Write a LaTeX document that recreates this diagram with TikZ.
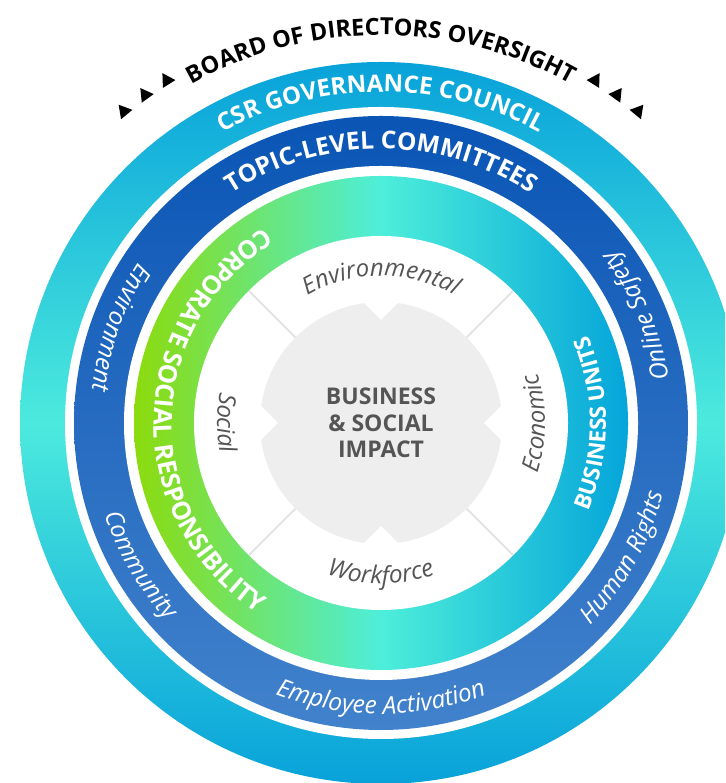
\documentclass[tikz,border=0pt]{standalone}
\usepackage{fontspec}
\setmainfont{Open Sans}
\usetikzlibrary{decorations.text,shapes.geometric}
\definecolor{cyanA}{HTML}{08A2DA}
\definecolor{cyanM}{HTML}{4CEADD}
\definecolor{blueT}{HTML}{0A55B5}
\definecolor{blueB}{HTML}{4282CC}
\definecolor{limeL}{HTML}{8CDB0C}
\definecolor{aquaM}{HTML}{4DEEDA}
\definecolor{cyanR}{HTML}{05A5DA}
\definecolor{grayC}{HTML}{EEEEEE}
\definecolor{grayL}{HTML}{E4E4E4}
\definecolor{txtgray}{HTML}{555555}
\begin{document}
\begin{tikzpicture}[x=1pt,y=1pt,
  tri/.style={regular polygon, regular polygon sides=3, fill=black, draw=none, minimum size=17pt, inner sep=0pt},
  arctext/.style={decorate, decoration={text along path, text align=center}},
  divider/.style={draw=grayL, line width=2pt}]
\clip (0,0) rectangle (725,783);
\coordinate (c) at (381,360);
% rings
\shade[top color=cyanA, bottom color=cyanA, middle color=cyanM] (c) circle (361pt);
\fill[white] (c) circle (316pt);
\shade[top color=blueT, bottom color=blueB] (c) circle (307pt);
\fill[white] (c) circle (257pt);
\shade[left color=limeL, right color=cyanR, middle color=aquaM] (c) circle (247pt);
\fill[white] (c) circle (187pt);
% dividers
\foreach \a in {45,135,225,315}
  \draw[divider] ([shift={(\a:100pt)}]c) -- ([shift={(\a:187pt)}]c);
% center shape
\fill[grayC] (c) circle (121pt);
\foreach \a in {0,90,180,270}
  \fill[white] ([shift={(\a:103pt)}]c) -- ([shift={(\a:133pt)},shift={(\a+90:30pt)}]c)
     -- ([shift={(\a:163pt)}]c) -- ([shift={(\a:133pt)},shift={(\a-90:30pt)}]c) -- cycle;
\node[font=\fontsize{23}{26.5}\selectfont\bfseries, text=txtgray, align=center] (impact) at (c) {BUSINESS\\\& SOCIAL\\IMPACT};
% triangles
\node[tri, rotate=32] (t1) at ([shift={(122:404pt)}]c) {};
\node[tri, rotate=35.7] (t2) at ([shift={(125.7:404pt)}]c) {};
\node[tri, rotate=39.5] (t3) at ([shift={(129.5:404pt)}]c) {};
\node[tri, rotate=-32] (t4) at ([shift={(58:404pt)}]c) {};
\node[tri, rotate=-35.7] (t5) at ([shift={(54.3:404pt)}]c) {};
\node[tri, rotate=-39.5] (t6) at ([shift={(50.5:404pt)}]c) {};
% top caps texts (clockwise)
\path[arctext, decoration={text color=black, text={|\fontsize{23.5}{23.5}\selectfont\bfseries|BOARD OF DIRECTORS OVERSIGHT}}]
  ([shift={(178:388pt)}]c) arc[start angle=178, end angle=2, radius=388pt];
\path[arctext, decoration={text color=white, text={|\fontsize{24}{24}\selectfont\bfseries|CSR GOVERNANCE COUNCIL}}]
  ([shift={(178:331pt)}]c) arc[start angle=178, end angle=2, radius=331pt];
\path[arctext, decoration={text color=white, text={|\fontsize{24.5}{24.5}\selectfont\bfseries|TOPIC-LEVEL COMMITTEES}}]
  ([shift={(178:274pt)}]c) arc[start angle=178, end angle=2, radius=274pt];
% green ring caps texts (counterclockwise)
\path[arctext, decoration={text color=white, text={|\fontsize{25.5}{25.5}\selectfont\bfseries|CORPORATE SOCIAL RESPONSIBILITY}}]
  ([shift={(89:227pt)}]c) arc[start angle=89, end angle=269, radius=227pt];
\path[arctext, decoration={text color=white, text={|\fontsize{22.5}{22.5}\selectfont\bfseries|BUSINESS UNITS}}]
  ([shift={(-90:225pt)}]c) arc[start angle=-90, end angle=90, radius=225pt];
% blue ring italic texts (counterclockwise)
\path[arctext, decoration={text color=white, text={|\fontsize{24.5}{24.5}\selectfont\itshape|Environment}}]
  ([shift={(70:291pt)}]c) arc[start angle=70, end angle=250, radius=291pt];
\path[arctext, decoration={text color=white, text={|\fontsize{24.5}{24.5}\selectfont\itshape|Community}}]
  ([shift={(120.5:291pt)}]c) arc[start angle=120.5, end angle=300.5, radius=291pt];
\path[arctext, decoration={text color=white, text={|\fontsize{24.5}{24.5}\selectfont\itshape|Employee Activation}}]
  ([shift={(180:291pt)}]c) arc[start angle=180, end angle=360, radius=291pt];
\path[arctext, decoration={text color=white, text={|\fontsize{24.5}{24.5}\selectfont\itshape|Human Rights}}]
  ([shift={(-119:291pt)}]c) arc[start angle=-119, end angle=61, radius=291pt];
\path[arctext, decoration={text color=white, text={|\fontsize{24.5}{24.5}\selectfont\itshape|Online Safety}}]
  ([shift={(-67.3:291pt)}]c) arc[start angle=-67.3, end angle=112.7, radius=291pt];
% inner labels
\path[arctext, decoration={text color=txtgray, text={|\fontsize{24}{24}\selectfont\itshape|Environmental}}]
  ([shift={(178:147pt)}]c) arc[start angle=178, end angle=2, radius=147pt];
\path[arctext, decoration={text color=txtgray, text={|\fontsize{24.5}{24.5}\selectfont\itshape|Workforce}}]
  ([shift={(180:161pt)}]c) arc[start angle=180, end angle=360, radius=161pt];
\path[arctext, decoration={text color=txtgray, text={|\fontsize{24}{24}\selectfont\itshape|Social}}]
  ([shift={(90:164pt)}]c) arc[start angle=90, end angle=270, radius=164pt];
\path[arctext, decoration={text color=txtgray, text={|\fontsize{24}{24}\selectfont\itshape|Economic}}]
  ([shift={(-90:164pt)}]c) arc[start angle=-90, end angle=90, radius=164pt];
\end{tikzpicture}
\end{document}
